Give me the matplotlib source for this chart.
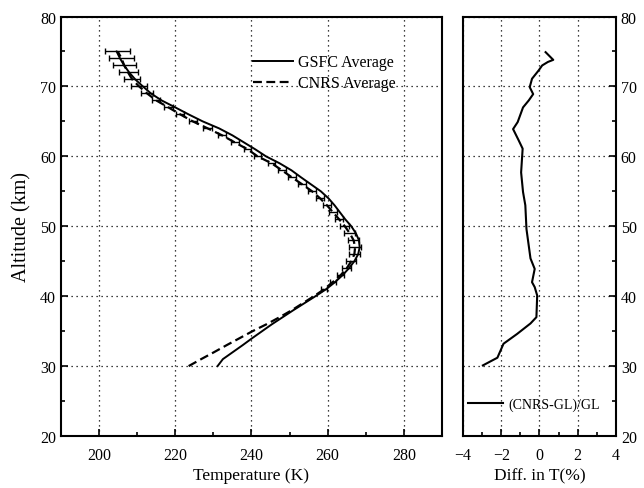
import numpy as np
import matplotlib
matplotlib.use("Agg")
import matplotlib.pyplot as plt
from matplotlib.ticker import MultipleLocator

plt.rcParams["font.family"] = ["Liberation Serif", "DejaVu Serif"]

# altitude grid for the two average profiles (km)
alt = list(range(30, 76))

gsfc_t = [231.1, 232.5, 235.1, 237.7, 240.2, 242.8, 245.4, 248.2, 251.0, 253.9,
          256.8, 259.6, 261.9, 263.9, 265.6, 267.0, 268.0, 268.4, 268.2, 267.4,
          266.2, 264.6, 263.2, 261.8, 260.2, 258.2, 255.6, 253.0, 250.5, 247.4,
          243.8, 241.0, 238.0, 235.0, 231.5, 227.2, 223.5, 220.0, 216.4, 213.6,
          211.5, 209.5, 207.9, 206.6, 205.5, 204.6]

cnrs_t = [223.5, 226.8, 230.2, 233.5, 236.9, 240.3, 244.0, 247.4, 250.6, 253.5,
          256.4, 259.1, 261.3, 263.4, 265.0, 266.2, 267.0, 267.2, 266.8, 265.8,
          264.5, 263.0, 261.4, 259.8, 258.0, 255.9, 253.3, 250.6, 248.0, 245.3,
          241.6, 239.0, 235.6, 232.3, 228.5, 224.6, 221.3, 218.2, 215.0, 212.6,
          210.5, 208.7, 207.6, 206.6, 205.9, 204.9]

# error bars on the CNRS profile, 41-75 km
err_alt = list(range(41, 76))
err_k = [0.8, 0.8, 1.0, 1.2, 1.3, 1.5, 1.5, 1.5, 1.5, 1.2,
         1.0, 1.0, 1.0, 1.0, 1.0, 1.0, 1.0, 1.0, 1.0, 1.0,
         1.0, 1.0, 1.0, 1.2, 1.0, 1.0, 1.2, 1.0, 1.5, 2.2,
         2.1, 2.5, 3.0, 3.2, 3.3]

# relative difference (CNRS-GL)/GL in %
diff_alt = [30.1, 31.2, 33.2, 34.6, 36.1, 37.0, 40.1, 41.3, 42.0, 43.9, 45.4,
            49.6, 53.0, 54.9, 57.7, 61.1, 62.3, 63.9, 64.9, 67.0, 68.0, 68.9,
            69.9, 71.1, 72.3, 73.0, 73.5, 73.8, 74.9]
diff_pct = [-2.96, -2.2, -1.88, -1.17, -0.47, -0.16, -0.12, -0.25, -0.39, -0.25,
            -0.47, -0.68, -0.74, -0.86, -0.96, -0.88, -1.09, -1.38, -1.14, -0.86,
            -0.56, -0.33, -0.51, -0.39, -0.04, 0.14, 0.44, 0.72, 0.32]

fig = plt.figure(figsize=(6.44, 4.89), dpi=100)
ax = fig.add_axes([0.0947, 0.1063, 0.5916, 0.8579])
ax2 = fig.add_axes([0.7189, 0.1063, 0.2376, 0.8579])

grid_kw = dict(color="k", linestyle=(0, (1, 3)), linewidth=0.9)

ax.plot(gsfc_t, alt, color="k", lw=1.4, label="GSFC Average")
ax.plot(cnrs_t, alt, color="k", lw=1.6, ls=(0, (4, 2)), label="CNRS Average")
cn = dict(zip(alt, cnrs_t))
ax.errorbar([cn[a] for a in err_alt], err_alt, xerr=err_k, fmt="none",
            ecolor="k", elinewidth=1.0, capsize=2, capthick=1.0)
ax.set_xlim(190, 290)
ax.set_ylim(20, 80)
ax.xaxis.set_major_locator(MultipleLocator(20))
ax.xaxis.set_minor_locator(MultipleLocator(10))
ax.yaxis.set_major_locator(MultipleLocator(10))
ax.yaxis.set_minor_locator(MultipleLocator(5))
ax.set_xticks([200, 220, 240, 260, 280])
ax.grid(True, which="major", **grid_kw)
ax.set_xlabel("Temperature (K)", fontsize=12.5, labelpad=3)
ax.set_ylabel("Altitude (km)", fontsize=14.5, labelpad=6)
ax.legend(loc="center left", bbox_to_anchor=(0.504, 0.866), frameon=False,
          fontsize=11.5, handlelength=2.5, handletextpad=0.3, labelspacing=0.3,
          borderpad=0, borderaxespad=0)

ax2.plot(diff_pct, diff_alt, color="k", lw=1.5, label="(CNRS-GL)/GL")
ax2.set_xlim(-4, 4)
ax2.set_ylim(20, 80)
ax2.xaxis.set_major_locator(MultipleLocator(2))
ax2.xaxis.set_minor_locator(MultipleLocator(1))
ax2.yaxis.set_major_locator(MultipleLocator(10))
ax2.yaxis.set_minor_locator(MultipleLocator(5))
ax2.grid(True, which="major", **grid_kw)
ax2.set_xlabel("Diff. in T(%)", fontsize=12.5, labelpad=3)
ax2.legend(loc="center left", bbox_to_anchor=(0.033, 0.076), frameon=False,
           fontsize=10, handlelength=2.5, handletextpad=0.4,
           borderpad=0, borderaxespad=0)

for a in (ax, ax2):
    for s in a.spines.values():
        s.set_linewidth(1.5)
    a.tick_params(which="both", direction="in", labelsize=11.5, width=1.2)
    a.tick_params(which="major", length=5)
    a.tick_params(which="minor", length=3)
    a.tick_params(axis="x", pad=8)

ax.tick_params(axis="y", which="both", left=True, right=False)
ax2.tick_params(axis="y", which="both", left=False, right=True,
                labelleft=False, labelright=True)

fig.savefig("out.png", dpi=100)
